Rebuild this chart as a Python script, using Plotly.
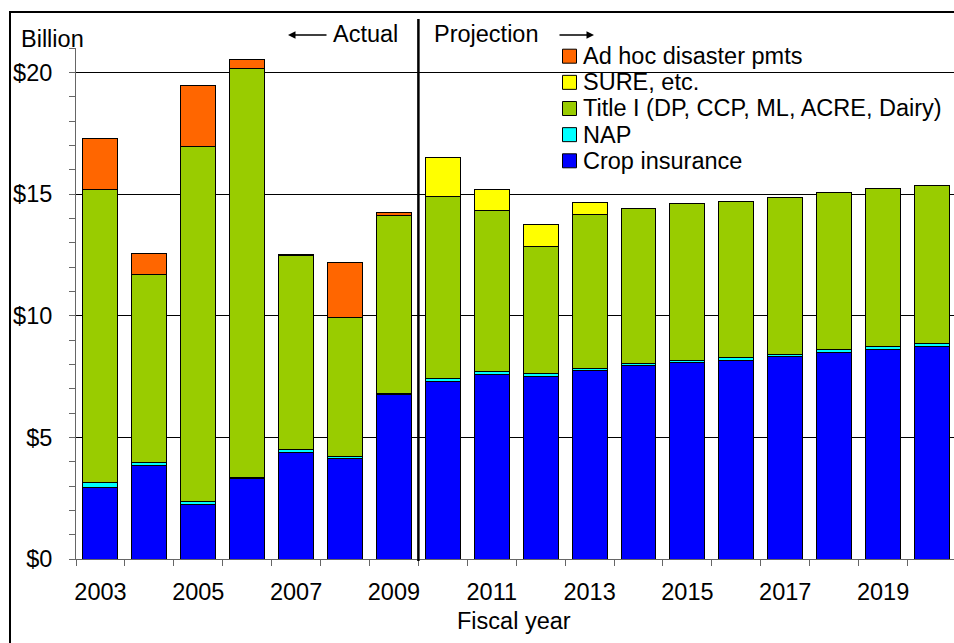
import plotly.graph_objects as go

years = [str(y) for y in range(2003, 2021)]
crop_insurance = [2.92, 3.83, 2.26, 3.29, 4.37, 4.15, 6.76, 7.31, 7.58, 7.49, 7.73, 7.94, 8.08, 8.17, 8.32, 8.50, 8.62, 8.73]
nap = [0.24, 0.14, 0.12, 0.06, 0.15, 0.06, 0.06, 0.11, 0.11, 0.12, 0.11, 0.08, 0.08, 0.10, 0.10, 0.11, 0.11, 0.11]
title_i = [12.01, 7.71, 14.58, 16.79, 7.94, 5.70, 7.31, 7.46, 6.63, 5.24, 6.32, 6.39, 6.45, 6.42, 6.43, 6.46, 6.49, 6.52]
sure = [0, 0, 0, 0, 0, 0, 0, 1.63, 0.88, 0.88, 0.49, 0, 0, 0, 0, 0, 0, 0]
ad_hoc = [2.11, 0.89, 2.48, 0.39, 0.07, 2.26, 0.11, 0, 0, 0, 0, 0, 0, 0, 0, 0, 0, 0]

series_names = ["Crop insurance", "NAP", "Title I (DP, CCP, ML, ACRE, Dairy)", "SURE, etc.", "Ad hoc disaster pmts"]
series_values = [crop_insurance, nap, title_i, sure, ad_hoc]
series_colors = ["#0000FF", "#00FFFF", "#99CC00", "#FFFF00", "#FF6600"]

y_tick_vals = [0, 5, 10, 15, 20]
y_tick_text = ["$0", "$5", "$10", "$15", "$20"]
x_tick_text = [y if int(y) % 2 == 1 else "" for y in years]

FONT = "Liberation Sans, Arial, sans-serif"
FS = 23.5
W, H = 954, 643
ML, MR, MT, MB = 76, 0, 48, 84
PW = W - ML - MR
PH = H - MT - MB


def px(x):
    return (x - ML) / PW


def py(y):
    return (H - MB - y) / PH


fig = go.Figure()
for name, vals, col in zip(series_names, series_values, series_colors):
    fig.add_trace(go.Bar(
        x=years,
        y=[v if v else None for v in vals],
        name=name,
        marker=dict(color=col, line=dict(color="black", width=1)),
        showlegend=False,
    ))

shapes = []
annotations = []

# white box behind legend
shapes.append(dict(type="rect", xref="paper", yref="paper",
                   x0=px(543), x1=px(960), y0=py(176), y1=py(40),
                   fillcolor="white", line=dict(width=0), layer="between"))

# legend entries (top to bottom: reverse stacking order)
leg_x0 = 562.5
leg_y0 = 56.2
leg_dy = 26.15
for i, (name, col) in enumerate(zip(series_names[::-1], series_colors[::-1])):
    cy = leg_y0 + i * leg_dy
    shapes.append(dict(type="rect", xref="paper", yref="paper",
                       x0=px(leg_x0), x1=px(leg_x0 + 14), y0=py(cy + 7), y1=py(cy - 7),
                       fillcolor=col, line=dict(color="black", width=1), layer="above"))
    annotations.append(dict(xref="paper", yref="paper", x=px(581), y=py(cy),
                            text=name, showarrow=False, xanchor="left", yanchor="middle",
                            font=dict(family=FONT, size=FS, color="black")))

# divider between actual and projection
shapes.append(dict(type="line", xref="x", yref="paper", x0=6.5, x1=6.5,
                   y0=py(561), y1=py(19), line=dict(color="black", width=2.5)))

# outer border (partially clipped, as in the reference)
shapes.append(dict(type="rect", xref="paper", yref="paper",
                   x0=px(10), x1=px(1000), y0=py(700), y1=py(12),
                   line=dict(color="black", width=2), fillcolor="rgba(0,0,0,0)"))

annotations += [
    dict(xref="paper", yref="paper", x=px(19), y=py(39), text="Billion", showarrow=False,
         xanchor="left", yanchor="middle", font=dict(family=FONT, size=FS, color="black")),
    dict(xref="paper", yref="paper", x=px(331), y=py(34), text="Actual", showarrow=False,
         xanchor="left", yanchor="middle", font=dict(family=FONT, size=FS, color="black")),
    dict(xref="paper", yref="paper", x=px(432), y=py(34), text="Projection", showarrow=False,
         xanchor="left", yanchor="middle", font=dict(family=FONT, size=FS, color="black")),
    dict(xref="paper", yref="paper", x=px(288), y=py(35), ax=40, ay=0, text="",
         showarrow=True, arrowhead=2, arrowsize=1, arrowwidth=1.5, arrowcolor="black"),
    dict(xref="paper", yref="paper", x=px(594), y=py(35), ax=-36, ay=0, text="",
         showarrow=True, arrowhead=2, arrowsize=1, arrowwidth=1.5, arrowcolor="black"),
    dict(xref="paper", yref="paper", x=px(514), y=py(621), text="Fiscal year", showarrow=False,
         xanchor="center", yanchor="middle", font=dict(family=FONT, size=FS, color="black")),
]

fig.update_layout(
    width=W, height=H, autosize=False,
    margin=dict(l=ML, r=MR, t=MT, b=MB, pad=0),
    barmode="stack", bargap=0.285,
    plot_bgcolor="white", paper_bgcolor="white",
    font=dict(family=FONT, size=FS, color="black"),
    shapes=shapes, annotations=annotations,
    showlegend=False,
)
fig.update_xaxes(
    type="category", range=[-0.5, 17.45],
    tickmode="array", tickvals=years, ticktext=x_tick_text,
    tickson="boundaries", ticks="outside", ticklen=6, tickcolor="#666", tickwidth=1,
    showline=True, linecolor="#666", linewidth=1, showgrid=False,
    ticklabelstandoff=12, tickangle=0,
    tickfont=dict(family=FONT, size=FS, color="black"),
)
fig.update_yaxes(
    range=[0, 21], tickmode="array", tickvals=y_tick_vals, ticktext=y_tick_text,
    ticks="outside", ticklen=6, tickcolor="#666", tickwidth=1,
    minor=dict(dtick=1, tick0=0, ticks="outside", ticklen=6, tickcolor="#666", showgrid=False),
    showline=True, linecolor="#666", linewidth=1,
    showgrid=True, gridcolor="black", gridwidth=1, zeroline=False,
    ticklabelstandoff=12,
    tickfont=dict(family=FONT, size=FS, color="black"),
)

fig.write_html("out.html", config={"displayModeBar": False},
               post_script="document.body.style.margin='0';")
